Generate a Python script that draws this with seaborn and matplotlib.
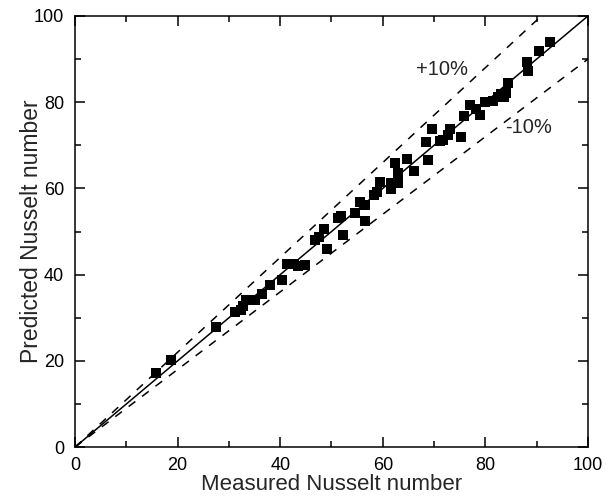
import numpy as np
import pandas as pd
import matplotlib
matplotlib.use("Agg")
import matplotlib.pyplot as plt
from matplotlib.ticker import MultipleLocator
import seaborn as sns

sns.set_style("ticks")
plt.rcParams.update({
    "font.family": ["Liberation Sans", "DejaVu Sans"],
    "font.size": 12,
    "axes.linewidth": 1.1,
})

# measured vs predicted Nusselt number
measured = [15.7, 18.7, 27.4, 31.1, 32.4, 32.8, 33.4, 35.1, 36.4, 38.0,
            40.3, 41.3, 42.6, 43.5, 44.8, 46.8, 47.6, 48.6, 49.1, 51.3,
            51.8, 52.3, 54.6, 55.6, 56.5, 56.5, 58.2, 58.8, 59.5, 61.7,
            61.7, 62.4, 63.0, 63.0, 64.8, 66.0, 68.5, 68.9, 69.6, 71.1,
            71.8, 72.8, 73.2, 75.2, 75.9, 77.1, 78.1, 79.0, 79.9, 81.4,
            82.4, 83.0, 83.6, 84.1, 84.5, 88.2, 88.4, 90.4, 92.6]
predicted = [17.2, 20.3, 27.8, 31.4, 31.8, 32.8, 34.2, 34.1, 35.5, 37.6,
             38.7, 42.5, 42.5, 42.1, 42.2, 48.0, 48.8, 50.7, 45.9, 53.1,
             53.6, 49.2, 54.2, 56.9, 56.1, 52.5, 58.5, 59.2, 61.5, 61.2,
             59.8, 65.8, 61.2, 63.5, 66.8, 64.1, 70.8, 66.7, 73.7, 71.0,
             71.3, 72.5, 73.7, 71.9, 76.8, 79.3, 78.4, 77.0, 80.1, 80.2,
             81.2, 81.8, 81.2, 82.2, 84.5, 89.4, 87.2, 91.9, 93.9]

line_x = np.array([0, 100])
band = [1.1, 0.9]
band_labels = ["+10%", "-10%"]

df = pd.DataFrame({"measured": measured, "predicted": predicted})

fig = plt.figure(figsize=(6.15, 4.99), dpi=100)
ax = fig.add_axes([0.122, 0.104, 0.834, 0.864])

ax.plot(line_x, line_x, color="black", lw=1.1)
for r in band:
    ax.plot(line_x, line_x * r, color="black", lw=1.1, dashes=(5.5, 5.5))

sns.scatterplot(data=df, x="measured", y="predicted", marker="s", s=52,
                color="black", edgecolor="black", linewidth=0, ax=ax, zorder=3)

ax.text(66.4, 87.5, band_labels[0], fontsize=14.5, va="center", ha="left")
ax.text(83.8, 74.1, band_labels[1], fontsize=14.5, va="center", ha="left")

ax.set_xlim(0, 100)
ax.set_ylim(0, 100)
ax.xaxis.set_major_locator(MultipleLocator(20))
ax.yaxis.set_major_locator(MultipleLocator(20))
ax.xaxis.set_minor_locator(MultipleLocator(10))
ax.yaxis.set_minor_locator(MultipleLocator(10))
ax.tick_params(which="both", direction="in", top=True, right=True, width=1.1,
               labelsize=13, colors="black")
ax.tick_params(which="major", length=7)
ax.tick_params(which="minor", length=4)
ax.tick_params(axis="x", which="major", pad=7)
ax.tick_params(axis="y", which="major", pad=8)
for sp in ax.spines.values():
    sp.set_visible(True)
    sp.set_color("black")

ax.set_xlabel("Measured Nusselt number", fontsize=16, labelpad=0)
ax.set_ylabel("Predicted Nusselt number", fontsize=16.5, labelpad=-7)

fig.savefig("out.png", dpi=100)
